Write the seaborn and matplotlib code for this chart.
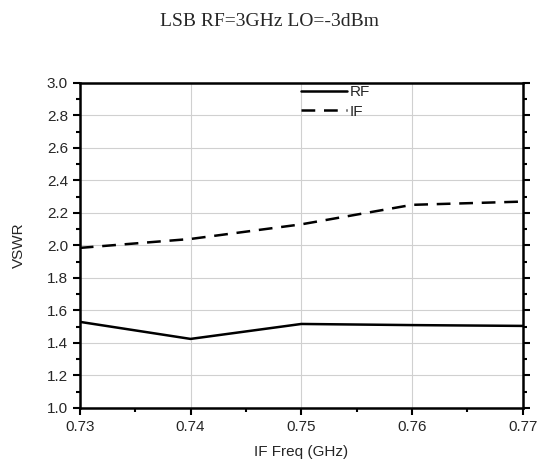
import pandas as pd
import matplotlib.pyplot as plt
import seaborn as sns
from matplotlib.ticker import MultipleLocator

# values
freq = [0.73, 0.74, 0.75, 0.76, 0.77]
rf_vswr = [1.53, 1.425, 1.517, 1.51, 1.505]
if_vswr = [1.985, 2.04, 2.13, 2.25, 2.27]

df = pd.DataFrame({
    'freq': freq * 2,
    'vswr': rf_vswr + if_vswr,
    'port': ['RF'] * len(freq) + ['IF'] * len(freq),
})

sns.set_style('white')
plt.rcParams['font.family'] = ['Liberation Sans', 'DejaVu Sans']

fig = plt.figure(figsize=(5.39, 4.66), dpi=100)
ax = fig.add_axes([0.148, 0.1245, 0.822, 0.6975])

sns.lineplot(data=df, x='freq', y='vswr', style='port', color='black',
             dashes={'RF': '', 'IF': (5.5, 3.5)}, linewidth=1.8, ax=ax)

ax.set_xlim(0.73, 0.77)
ax.set_ylim(1.0, 3.0)
ax.xaxis.set_major_locator(MultipleLocator(0.01))
ax.xaxis.set_minor_locator(MultipleLocator(0.005))
ax.yaxis.set_major_locator(MultipleLocator(0.2))
ax.yaxis.set_minor_locator(MultipleLocator(0.1))
ax.xaxis.set_major_formatter(plt.FormatStrFormatter('%.2f'))
ax.yaxis.set_major_formatter(plt.FormatStrFormatter('%.1f'))
ax.grid(True, which='major', color='#d0d0d0', linewidth=0.8)

for s in ax.spines.values():
    s.set_linewidth(1.8)
    s.set_color('black')

ax.tick_params(which='both', direction='out', color='black', width=1.5,
               labelsize=11, bottom=True, left=True)
ax.tick_params(which='major', length=5)
ax.tick_params(which='minor', length=3)
ax.tick_params(axis='y', which='both', right=True, labelright=False)

ax.set_xlabel('IF Freq (GHz)', fontsize=11, labelpad=8)
ax.set_ylabel('VSWR', fontsize=11, labelpad=15)

ax.legend(handles=ax.get_legend().legend_handles, labels=['RF', 'IF'],
          loc='upper left', bbox_to_anchor=(0.468, 1.035), frameon=False,
          fontsize=11, handlelength=3.0, handletextpad=0.2, labelspacing=0.35)

fig.text(0.5, 0.953, 'LSB RF=3GHz LO=-3dBm', ha='center', va='center',
         fontsize=14, family=['Liberation Serif', 'DejaVu Serif'])

fig.savefig('out.png', dpi=100)
